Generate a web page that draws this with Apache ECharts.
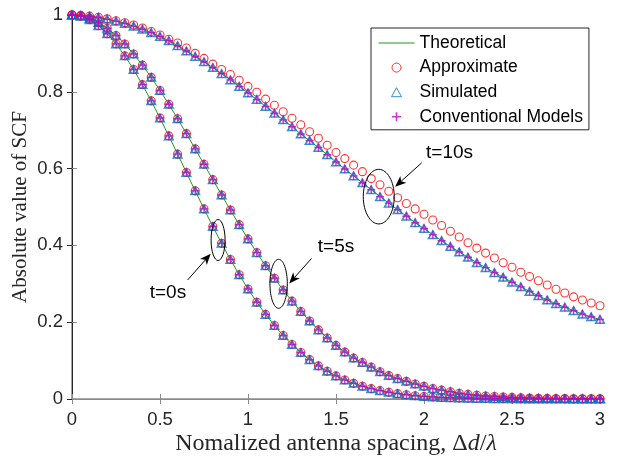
<!DOCTYPE html>
<html><head><meta charset="utf-8">
<script src="https://cdn.jsdelivr.net/npm/echarts@6/dist/echarts.min.js"></script>
<style>html,body{margin:0;padding:0;background:#fff}#c{width:622px;height:458px}</style>
</head><body><div id="c"></div>
<script>
// ---------- data ----------
const spacing = [0,0.05,0.1,0.15,0.2,0.25,0.3,0.35,0.4,0.45,0.5,0.55,0.6,0.65,0.7,0.75,0.8,0.85,0.9,0.95,
  1,1.05,1.1,1.15,1.2,1.25,1.3,1.35,1.4,1.45,1.5,1.55,1.6,1.65,1.7,1.75,1.8,1.85,1.9,1.95,
  2,2.05,2.1,2.15,2.2,2.25,2.3,2.35,2.4,2.45,2.5,2.55,2.6,2.65,2.7,2.75,2.8,2.85,2.9,2.95,3];

const theoretical_t0 = [1.0000,0.9969,0.9876,0.9723,0.9512,0.9248,0.8936,0.8580,0.8187,0.7764,0.7316,0.6852,0.6376,0.5897,0.5420,0.4950,0.4493,0.4053,0.3633,0.3236,
  0.2865,0.2521,0.2203,0.1914,0.1653,0.1418,0.1209,0.1025,0.0863,0.0722,0.0601,0.0496,0.0408,0.0333,0.0270,0.0218,0.0174,0.0139,0.0110,0.0086,
  0.0067,0.0052,0.0040,0.0031,0.0024,0.0018,0.0013,0.0010,0.0007,0.0005,0.0004,0.0003,0.0002,0.0001,0.0001,0.0001,0.0001,0.0000,0.0000,0.0000,0.0000];
const theoretical_t5 = [1.0000,0.9978,0.9913,0.9805,0.9656,0.9468,0.9243,0.8984,0.8694,0.8376,0.8035,0.7674,0.7298,0.6910,0.6513,0.6113,0.5712,0.5314,0.4923,0.4540,
  0.4169,0.3811,0.3469,0.3144,0.2837,0.2548,0.2279,0.2030,0.1800,0.1589,0.1396,0.1222,0.1065,0.0950,0.0830,0.0710,0.0610,0.0530,0.0460,0.0390,
  0.0330,0.0270,0.0230,0.0190,0.0150,0.0120,0.0098,0.0080,0.0065,0.0052,0.0042,0.0034,0.0027,0.0021,0.0017,0.0013,0.0010,0.0008,0.0006,0.0005,0.0004];
const theoretical_t10 = [1.000,0.999,0.997,0.994,0.989,0.984,0.978,0.971,0.963,0.954,0.944,0.933,0.920,0.906,0.892,0.878,0.863,0.847,0.831,0.814,
  0.797,0.780,0.762,0.744,0.727,0.709,0.690,0.673,0.655,0.636,0.617,0.599,0.581,0.563,0.545,0.527,0.510,0.493,0.476,0.459,
  0.444,0.428,0.412,0.397,0.383,0.369,0.355,0.342,0.329,0.317,0.304,0.292,0.280,0.269,0.258,0.248,0.239,0.230,0.221,0.214,0.207];

const approximate_t0 = theoretical_t0;
const approximate_t5 = theoretical_t5;
const approximate_t10 = [1.000,0.999,0.997,0.994,0.990,0.985,0.980,0.974,0.966,0.957,0.948,0.937,0.927,0.914,0.900,0.887,0.872,0.858,0.845,0.830,
  0.814,0.799,0.781,0.765,0.748,0.731,0.714,0.696,0.679,0.661,0.642,0.626,0.609,0.592,0.574,0.558,0.541,0.524,0.509,0.495,
  0.481,0.466,0.452,0.437,0.422,0.407,0.393,0.380,0.367,0.355,0.343,0.330,0.319,0.308,0.297,0.286,0.276,0.266,0.258,0.250,0.243];

const simulated_t0 = theoretical_t0, simulated_t5 = theoretical_t5, simulated_t10 = theoretical_t10;
const conventional_t0 = theoretical_t0, conventional_t5 = theoretical_t5, conventional_t10 = theoretical_t10;

const legendNames = ['Theoretical','Approximate','Simulated','Conventional Models'];
const xTickLabels = ['0','0.5','1','1.5','2','2.5','3'];
const yTickLabels = ['0','0.2','0.4','0.6','0.8','1'];
const annotationLabels = ['t=0s','t=5s','t=10s'];

// ---------- chart ----------
const pairs = arr => spacing.map((x, i) => [x, arr[i]]);
const SANS = '"Liberation Sans", Arial, sans-serif';
const SERIF = '"Liberation Serif", "Times New Roman", serif';
const TRI = 'path://M5,0L10,9L0,9Z';
const PLUS = 'path://M3.3,0h1.4v3.3h3.3v1.4h-3.3v3.3h-1.4v-3.3h-3.3v-1.4h3.3z';
const LINE_ICON = 'path://M0,0H36V1.2H0Z';

const series = [];
[theoretical_t0, theoretical_t5, theoretical_t10].forEach(d => series.push({
  type: 'line', name: legendNames[0], data: pairs(d), symbol: 'none', showSymbol: false,
  lineStyle: {color: '#1e9a1e', width: 1}, itemStyle: {color: '#1e9a1e'}, z: 2, silent: true
}));
[approximate_t0, approximate_t5, approximate_t10].forEach(d => series.push({
  type: 'scatter', name: legendNames[1], data: pairs(d), symbol: 'circle', symbolSize: 8,
  itemStyle: {color: 'rgba(0,0,0,0)', borderColor: '#ff0000', borderWidth: 1.1}, z: 3, silent: true
}));
[simulated_t0, simulated_t5, simulated_t10].forEach(d => series.push({
  type: 'scatter', name: legendNames[2], data: pairs(d), symbol: TRI, symbolSize: [8.5, 7.5],
  itemStyle: {color: 'rgba(0,0,0,0)', borderColor: '#0a6fc0', borderWidth: 1.6}, z: 4, silent: true
}));
[conventional_t0, conventional_t5, conventional_t10].forEach(d => series.push({
  type: 'scatter', name: legendNames[3], data: pairs(d), symbol: PLUS, symbolSize: 8,
  itemStyle: {color: '#c000c8'}, z: 5, silent: true
}));

const gray = '#8a8a8a';
const option = {
  animation: false,
  backgroundColor: '#ffffff',
  grid: {left: 72, right: 22, top: 15, bottom: 59, outerBoundsMode: 'none', containLabel: false},
  legend: {
    orient: 'vertical', left: 371, top: 28,
    itemWidth: 36, itemHeight: 9, itemGap: 6.6,
    padding: [6, 6, 4, 7.5],
    borderColor: '#262626', borderWidth: 1, backgroundColor: '#ffffff',
    textStyle: {fontFamily: SANS, fontSize: 17.5, color: '#000'},
    itemStyle: {borderWidth: 1},
    lineStyle: {width: 1},
    data: [
      {name: legendNames[0], icon: LINE_ICON},
      {name: legendNames[1]},
      {name: legendNames[2]},
      {name: legendNames[3]}
    ],
    selectedMode: false
  },
  xAxis: [{
    type: 'value', min: 0, max: 3, interval: 0.5, position: 'bottom',
    axisLine: {lineStyle: {color: gray, width: 1.5}},
    axisTick: {inside: true, length: 5, lineStyle: {color: gray}},
    axisLabel: {margin: 11, color: '#262626', fontFamily: SANS, fontSize: 18.5,
      formatter: v => xTickLabels[Math.round(v / 0.5)]},
    splitLine: {show: false},
    name: 'Nomalized antenna spacing, Δ{it|d}/{it|λ}', nameLocation: 'middle', nameGap: 33,
    nameMoveOverlap: false,
    nameTextStyle: {fontFamily: SERIF, fontSize: 24, color: '#262626',
      rich: {it: {fontFamily: SERIF, fontSize: 24, fontStyle: 'italic', color: '#262626'}}}
  }, {
    type: 'value', min: 0, max: 3, interval: 0.5, position: 'top',
    axisLine: {lineStyle: {color: gray, width: 1}},
    axisTick: {inside: true, length: 5, lineStyle: {color: gray}},
    axisLabel: {show: false}, splitLine: {show: false}
  }],
  yAxis: [{
    type: 'value', min: 0, max: 1, interval: 0.2, position: 'left',
    axisLine: {show: true, lineStyle: {color: gray, width: 1.5}},
    axisTick: {show: true, inside: true, length: 5, lineStyle: {color: gray}},
    axisLabel: {margin: 9, color: '#262626', fontFamily: SANS, fontSize: 18.5,
      formatter: v => yTickLabels[Math.round(v / 0.2)]},
    splitLine: {show: false},
    name: 'Absolute value of SCF', nameLocation: 'middle', nameGap: 41, nameMoveOverlap: false,
    nameTextStyle: {fontFamily: SERIF, fontSize: 21, color: '#262626'}
  }, {
    type: 'value', min: 0, max: 1, interval: 0.2, position: 'right',
    axisLine: {show: true, lineStyle: {color: '#262626', width: 1}},
    axisTick: {show: true, inside: true, length: 5, lineStyle: {color: '#262626'}},
    axisLabel: {show: false}, splitLine: {show: false}
  }],
  series: series
};

const chart = echarts.init(document.getElementById('c'), null, {renderer: 'canvas'});
chart.setOption(option);

// ---------- annotations (in data coordinates) ----------
const annotations = [
  {label: annotationLabels[0], ellipse: [0.830, 0.414], rx: 7, ry: 20.5, from: [0.657, 0.310], to: [0.788, 0.378], text: [0.545, 0.276]},
  {label: annotationLabels[1], ellipse: [1.174, 0.300], rx: 8.7, ry: 24.5, from: [1.361, 0.366], to: [1.234, 0.301], text: [1.500, 0.396]},
  {label: annotationLabels[2], ellipse: [1.743, 0.527], rx: 15.5, ry: 27.3, from: [1.987, 0.615], to: [1.836, 0.553], text: [2.145, 0.641]}
];
const toPx = p => chart.convertToPixel({xAxisIndex: 0, yAxisIndex: 0}, p);
const graphics = [];
annotations.forEach(a => {
  const c = toPx(a.ellipse);
  graphics.push({type: 'ellipse', shape: {cx: c[0], cy: c[1], rx: a.rx, ry: a.ry},
    style: {fill: 'none', stroke: '#000', lineWidth: 1}, z: 10, silent: true});
  const s = toPx(a.from), e = toPx(a.to);
  const dx = e[0] - s[0], dy = e[1] - s[1], len = Math.hypot(dx, dy);
  const ux = dx / len, uy = dy / len, nx = -uy, ny = ux;
  const L = 11, W = 4.5, notch = 3;
  const notchPt = [e[0] - (L - notch) * ux, e[1] - (L - notch) * uy];
  graphics.push({type: 'line', shape: {x1: s[0], y1: s[1], x2: notchPt[0], y2: notchPt[1]},
    style: {stroke: '#000', lineWidth: 1}, z: 10, silent: true});
  graphics.push({type: 'polygon', shape: {points: [
    [e[0], e[1]],
    [e[0] - L * ux + W * nx, e[1] - L * uy + W * ny],
    notchPt,
    [e[0] - L * ux - W * nx, e[1] - L * uy - W * ny]
  ]}, style: {fill: '#000'}, z: 10, silent: true});
  const t = toPx(a.text);
  graphics.push({type: 'text', x: t[0], y: t[1], style: {text: a.label, align: 'center', verticalAlign: 'middle',
    fontFamily: SANS, fontSize: 19, fill: '#000'}, z: 10, silent: true});
});
chart.setOption({graphic: graphics});
</script>
</body></html>
